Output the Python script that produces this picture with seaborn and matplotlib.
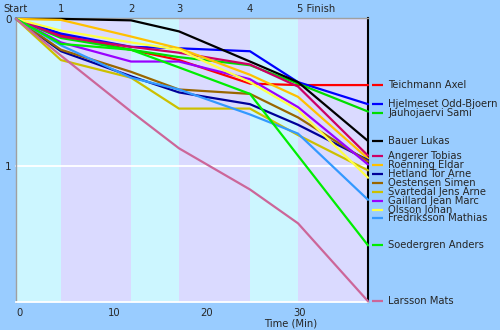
import matplotlib
matplotlib.use("Agg")
import matplotlib.pyplot as plt
import matplotlib.transforms as mtransforms
import numpy as np
import pandas as pd
import seaborn as sns

# Split points along the course and the leader's elapsed time at each (minutes)
checkpoints = ["Start", "1", "2", "3", "4", "5", "Finish"]
split_times = [0.0, 4.87, 12.46, 17.65, 25.34, 30.54, 38.12]

athletes = [
    "Teichmann Axel", "Hjelmeset Odd-Bjoern", "Jauhojaervi Sami", "Bauer Lukas",
    "Angerer Tobias", "Roenning Eldar", "Hetland Tor Arne", "Oestensen Simen",
    "Svartedal Jens Arne", "Gaillard Jean Marc", "Olsson Johan",
    "Fredriksson Mathias", "Soedergren Anders", "Larsson Mats",
]
colors = [
    "#FF0000", "#0000FF", "#00DD00", "#000000",
    "#CC0066", "#FFC000", "#000099", "#996600",
    "#CCC000", "#9900FF", "#FFFF44",
    "#3399FF", "#00EE00", "#CC6699",
]

# Time behind the leader at each split (minutes)
gap_teichmann = [0, 0.11, 0.21, 0.28, 0.44, 0.45, 0.45]
gap_hjelmeset = [0, 0.10, 0.19, 0.20, 0.22, 0.43, 0.58]
gap_jauhojaervi = [0, 0.13, 0.21, 0.26, 0.315, 0.44, 0.63]
gap_bauer = [0, 0.0, 0.01, 0.085, 0.29, 0.43, 0.83]
gap_angerer = [0, 0.12, 0.19, 0.23, 0.31, 0.46, 0.93]
gap_roenning = [0, 0.007, 0.12, 0.20, 0.38, 0.53, 0.95]
gap_hetland = [0, 0.22, 0.39, 0.50, 0.58, 0.72, 0.96]
gap_oestensen = [0, 0.21, 0.36, 0.48, 0.51, 0.67, 0.97]
gap_svartedal = [0, 0.28, 0.40, 0.61, 0.61, 0.79, 1.03]
gap_gaillard = [0, 0.16, 0.29, 0.29, 0.41, 0.60, 0.99]
gap_olsson = [0, 0.08, 0.16, 0.21, 0.43, 0.62, 1.08]
gap_fredriksson = [0, 0.18, 0.40, 0.48, 0.65, 0.78, 1.23]
gap_soedergren = [0, 0.17, 0.21, 0.33, 0.51, 0.93, 1.54]
gap_larsson = [0, 0.25, 0.63, 0.88, 1.16, 1.39, 1.92]

all_gaps = [
    gap_teichmann, gap_hjelmeset, gap_jauhojaervi, gap_bauer, gap_angerer,
    gap_roenning, gap_hetland, gap_oestensen, gap_svartedal, gap_gaillard,
    gap_olsson, gap_fredriksson, gap_soedergren, gap_larsson,
]

x_ticks = [0, 10, 20, 30]
y_ticks = [0, 1]

rows = []
for name, g in zip(athletes, all_gaps):
    for cp, t, v in zip(checkpoints, split_times, g):
        rows.append({"athlete": name, "checkpoint": cp, "time": t, "gap": v})
df = pd.DataFrame(rows)
palette = dict(zip(athletes, colors))

sns.set_style("white")
plt.rcParams["font.family"] = ["DejaVu Sans"]

W, H = 500, 330
fig = plt.figure(figsize=(W / 100, H / 100), dpi=100, facecolor="#99CCFF")
L, R, T, B = 16, 368, 18, 302
ax = fig.add_axes([L / W, 1 - B / H, (R - L) / W, (B - T) / H])
ax.set_facecolor("#DADAFF")

# Alternating bands between splits
band_colors = ["#CCF6FF", "#DADAFF"]
for i in range(len(split_times) - 1):
    ax.axvspan(split_times[i], split_times[i + 1], color=band_colors[i % 2], lw=0, zorder=0)

ymax = 1.925
ax.set_xlim(0, split_times[-1])
ax.set_ylim(ymax, -0.006)
ax.axhline(1, color="white", lw=1.3, zorder=1)

sns.lineplot(data=df, x="time", y="gap", hue="athlete", palette=palette,
             hue_order=athletes, sort=False, estimator=None, lw=1.6,
             legend=False, ax=ax, zorder=3)
for line in ax.lines:
    line.set_clip_on(False)

# Axis styling
ax.set_xlabel("")
ax.set_ylabel("")
ax.set_xticks(x_ticks)
ax.set_xticklabels([str(v) for v in x_ticks], fontsize=7.2, ha="left")
ax.set_yticks(y_ticks)
ax.set_yticklabels([str(v) for v in y_ticks], fontsize=7.5)
ax.tick_params(axis="both", length=0, pad=3)
ax.tick_params(axis="x", pad=4)
for side, col, lw in [("left", "#A0A0A0", 1.0), ("top", "#A0A0A0", 1.0),
                      ("bottom", "white", 1.3), ("right", "black", 1.5)]:
    ax.spines[side].set_visible(True)
    ax.spines[side].set_color(col)
    ax.spines[side].set_linewidth(lw)

ax.text(0.78, -0.075, "Time (Min)", transform=ax.transAxes, ha="center",
        va="center", fontsize=7.2)

# Split names along the top
trans_top = mtransforms.blended_transform_factory(ax.transData, ax.transAxes)
for cp, t in zip(checkpoints[:-2], split_times[:-2]):
    ax.text(t, 1.032, cp, transform=trans_top, ha="center", va="center", fontsize=7.2)
ax.text(split_times[-2] - 0.15, 1.032, "5 Finish", transform=trans_top,
        ha="left", va="center", fontsize=7.2)

# Name labels at the right, spread so they do not overlap
trans_right = mtransforms.blended_transform_factory(ax.transAxes, ax.transData)
min_step = 9 / 147.5
prev = -1.0
for name, col, g in zip(athletes, colors, all_gaps):
    y = max(g[-1], prev + min_step)
    prev = y
    ax.plot([1.011, 1.043], [y, y], color=col, lw=1.6, transform=trans_right,
            clip_on=False, solid_capstyle="butt")
    ax.text(1.057, y, name, transform=trans_right, ha="left", va="center",
            fontsize=7.2)

fig.savefig("out.png", dpi=100, facecolor=fig.get_facecolor())
